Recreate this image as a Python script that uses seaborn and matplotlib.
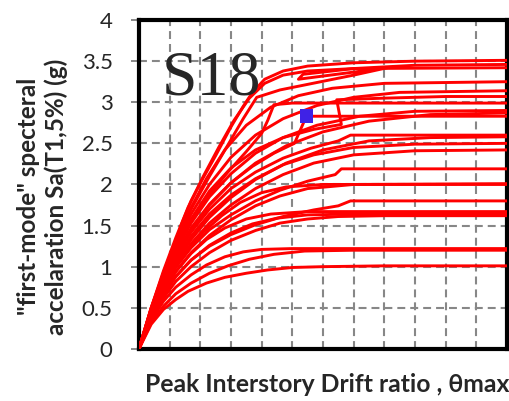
import matplotlib
matplotlib.use("Agg")
import matplotlib.pyplot as plt
import seaborn as sns
import pandas as pd

# ---- data (drift ratio in %, Sa in g) ----
c01_x = [0, 0.4, 0.8, 1.04, 1.37, 1.7, 2.05, 2.5, 3.0, 3.4, 3.7, 4.1, 4.7, 5.5, 7, 9, 12]
c01_y = [0, 0.5, 0.9, 1.1, 1.5, 1.8, 2.05, 2.35, 2.7, 2.95, 3.12, 3.28, 3.38, 3.44, 3.48, 3.5, 3.51]
c02_x = [0, 0.4, 0.8, 1.2, 1.7, 2.3, 2.9, 3.4, 3.84, 4.6, 5.8, 7, 8.1, 5.2, 5.35, 7, 9, 12]
c02_y = [0, 0.49, 0.92, 1.3, 1.7, 2.1, 2.48, 2.8, 3.06, 3.15, 3.24, 3.33, 3.42, 3.28, 3.34, 3.41, 3.45, 3.46]
c03_x = [0, 0.4, 0.8, 1.2, 1.6, 2.1, 2.6, 3.1, 3.6, 4.1, 4.7, 5.5, 7, 12]
c03_y = [0, 0.5, 0.95, 1.35, 1.72, 2.1, 2.45, 2.78, 3.05, 3.23, 3.33, 3.38, 3.41, 3.42]
c04_x = [0, 0.4, 0.8, 1.2, 1.7, 2.2, 2.8, 3.5, 4.3, 5.2, 6.3, 8, 12]
c04_y = [0, 0.5, 0.93, 1.31, 1.72, 2.07, 2.42, 2.72, 2.94, 3.08, 3.17, 3.23, 3.25]
c05_x = [0, 0.4, 0.8, 1.2, 1.7, 2.3, 3.0, 3.8, 4.7, 5.8, 7, 8.5, 12]
c05_y = [0, 0.48, 0.9, 1.26, 1.64, 2.0, 2.33, 2.6, 2.8, 2.96, 3.06, 3.12, 3.14]
c06_x = [0, 0.4, 0.8, 1.2, 1.7, 2.3, 3.0, 3.8, 4.7, 5.7, 6.6, 6.45, 8, 10, 12]
c06_y = [0, 0.48, 0.88, 1.22, 1.58, 1.92, 2.2, 2.42, 2.57, 2.67, 2.73, 3.03, 3.05, 3.07, 3.07]
c07_x = [0, 0.4, 0.8, 1.2, 1.7, 2.3, 2.9, 3.5, 4.0, 4.2, 4.4, 5, 12]
c07_y = [0, 0.47, 0.87, 1.2, 1.55, 1.88, 2.15, 2.4, 2.62, 2.78, 2.97, 2.99, 2.99]
c08_x = [0, 0.4, 0.8, 1.2, 1.7, 2.3, 3.0, 3.8, 4.7, 5.8, 7.2, 9, 12]
c08_y = [0, 0.47, 0.86, 1.19, 1.53, 1.85, 2.13, 2.38, 2.57, 2.72, 2.83, 2.89, 2.9]
c09_x = [0, 0.4, 0.8, 1.2, 1.7, 2.3, 3.0, 3.8, 4.8, 6.0, 7.5, 9.5, 12]
c09_y = [0, 0.45, 0.82, 1.13, 1.45, 1.75, 2.02, 2.26, 2.47, 2.64, 2.77, 2.85, 2.87]
cb_x = [0, 0.4, 0.8, 1.2, 1.7, 2.3, 3.0, 3.7, 4.4, 5.07, 5.46, 12]
cb_y = [0, 0.46, 0.84, 1.15, 1.47, 1.76, 2.02, 2.22, 2.38, 2.5, 2.83, 2.83]
c10_x = [0, 0.4, 0.8, 1.2, 1.7, 2.3, 3.0, 3.8, 4.7, 5.6, 6.5, 6.9, 12]
c10_y = [0, 0.45, 0.82, 1.12, 1.42, 1.7, 1.95, 2.15, 2.32, 2.44, 2.53, 2.6, 2.6]
c11_x = [0, 0.4, 0.8, 1.2, 1.7, 2.3, 3.0, 3.8, 4.8, 6.0, 7.5, 9.5, 12]
c11_y = [0, 0.43, 0.78, 1.05, 1.33, 1.6, 1.84, 2.06, 2.26, 2.42, 2.53, 2.57, 2.58]
c12_x = [0, 0.4, 0.8, 1.2, 1.7, 2.3, 3.0, 3.8, 4.7, 5.7, 7, 9, 12]
c12_y = [0, 0.44, 0.8, 1.08, 1.37, 1.64, 1.87, 2.07, 2.24, 2.36, 2.45, 2.49, 2.5]
c13_x = [0, 0.4, 0.8, 1.2, 1.7, 2.3, 3.0, 3.8, 4.7, 5.7, 7, 9, 12]
c13_y = [0, 0.43, 0.76, 1.02, 1.28, 1.53, 1.75, 1.95, 2.12, 2.26, 2.36, 2.41, 2.42]
c14_x = [0, 0.4, 0.8, 1.2, 1.7, 2.3, 3.0, 3.8, 4.6, 5.5, 6.4, 6.6, 12]
c14_y = [0, 0.42, 0.74, 0.99, 1.23, 1.45, 1.63, 1.8, 1.93, 2.04, 2.12, 2.19, 2.19]
c15_x = [0, 0.4, 0.8, 1.2, 1.7, 2.3, 3.0, 3.8, 4.6, 5.5, 7, 12]
c15_y = [0, 0.4, 0.7, 0.94, 1.17, 1.38, 1.57, 1.74, 1.86, 1.95, 2.0, 2.01]
c16_x = [0, 0.4, 0.8, 1.2, 1.6, 2.1, 2.7, 3.3, 4.0, 4.8, 6, 12]
c16_y = [0, 0.42, 0.75, 1.0, 1.2, 1.42, 1.62, 1.78, 1.9, 1.97, 2.0, 2.0]
c17_x = [0, 0.4, 0.8, 1.2, 1.7, 2.3, 3.0, 3.8, 4.7, 5.7, 6.5, 6.9, 12]
c17_y = [0, 0.38, 0.66, 0.88, 1.08, 1.25, 1.39, 1.51, 1.61, 1.69, 1.74, 1.8, 1.8]
c18_x = [0, 0.4, 0.8, 1.2, 1.7, 2.2, 2.8, 3.5, 4.3, 5.5, 12]
c18_y = [0, 0.4, 0.7, 0.94, 1.16, 1.33, 1.47, 1.58, 1.64, 1.67, 1.67]
c19_x = [0, 0.4, 0.8, 1.2, 1.7, 2.3, 3.0, 3.7, 4.5, 5.5, 7, 12]
c19_y = [0, 0.38, 0.66, 0.88, 1.08, 1.26, 1.41, 1.52, 1.59, 1.63, 1.64, 1.64]
c20_x = [0, 0.4, 0.8, 1.2, 1.7, 2.3, 3.0, 3.8, 4.6, 5.5, 6.5, 8, 12]
c20_y = [0, 0.36, 0.62, 0.82, 1.0, 1.17, 1.32, 1.44, 1.53, 1.58, 1.61, 1.62, 1.62]
c21_x = [0, 0.4, 0.8, 1.2, 1.7, 2.2, 2.8, 3.4, 4.0, 5.0, 12]
c21_y = [0, 0.35, 0.58, 0.75, 0.9, 1.02, 1.12, 1.18, 1.21, 1.22, 1.22]
c22_x = [0, 0.4, 0.8, 1.2, 1.7, 2.3, 2.9, 3.6, 4.4, 5.4, 7, 12]
c22_y = [0, 0.32, 0.52, 0.67, 0.8, 0.92, 1.01, 1.09, 1.15, 1.19, 1.2, 1.2]
c23_x = [0, 0.4, 0.8, 1.2, 1.6, 2.2, 2.8, 3.5, 4.2, 5.0, 6.0, 8, 12]
c23_y = [0, 0.3, 0.48, 0.6, 0.7, 0.8, 0.87, 0.92, 0.96, 0.99, 1.0, 1.01, 1.01]

marker_x = [5.46]
marker_y = [2.83]

y_ticks = [0, 0.5, 1, 1.5, 2, 2.5, 3, 3.5, 4]
y_tick_labels = ["0", "0.5", "1", "1.5", "2", "2.5", "3", "3.5", "4"]
x_grid = [1, 2, 3, 4, 5, 6, 7, 8, 9, 10, 11]

curves = {
    "c01": (c01_x, c01_y), "c02": (c02_x, c02_y), "c03": (c03_x, c03_y),
    "c04": (c04_x, c04_y), "c05": (c05_x, c05_y), "c06": (c06_x, c06_y),
    "c07": (c07_x, c07_y), "c08": (c08_x, c08_y), "c09": (c09_x, c09_y),
    "cb": (cb_x, cb_y), "c10": (c10_x, c10_y), "c11": (c11_x, c11_y),
    "c12": (c12_x, c12_y), "c13": (c13_x, c13_y), "c14": (c14_x, c14_y),
    "c15": (c15_x, c15_y), "c16": (c16_x, c16_y), "c17": (c17_x, c17_y),
    "c18": (c18_x, c18_y), "c19": (c19_x, c19_y), "c20": (c20_x, c20_y),
    "c21": (c21_x, c21_y), "c22": (c22_x, c22_y), "c23": (c23_x, c23_y),
}
rows = []
for name, (xs, ys) in curves.items():
    for i, (xv, yv) in enumerate(zip(xs, ys)):
        rows.append({"curve": name, "order": i, "drift": xv, "sa": yv})
df = pd.DataFrame(rows)

sns.set_theme(style="white")
plt.rcParams["font.family"] = ["Lato", "DejaVu Sans"]

fig = plt.figure(figsize=(5.09, 4.01), dpi=100)
ax = fig.add_axes([0.273, 0.130, 0.723, 0.820])

# grid
for xv in x_grid:
    ax.axvline(xv, color="#878787", lw=1.5, ls=(0, (3.8, 2.4)), zorder=1)
for yv in y_ticks[1:-1]:
    ax.axhline(yv, color="#878787", lw=1.5, ls=(0, (3.8, 2.4)), zorder=1)

sns.lineplot(data=df, x="drift", y="sa", units="curve", estimator=None,
             sort=False, color="#ff0000", lw=2.1, ax=ax, zorder=3)
sns.scatterplot(x=marker_x, y=marker_y, marker="s", s=95, color="#3f22e6",
                edgecolor="none", ax=ax, zorder=5)

ax.set_xlim(0, 12)
ax.set_ylim(0, 4)
ax.set_xticks([])
ax.set_yticks(y_ticks)
ax.set_yticklabels(y_tick_labels, fontsize=16)
ax.tick_params(axis="y", length=6, width=1.3, color="#808080", pad=13,
               left=True)
for s in ax.spines.values():
    s.set_visible(True)
    s.set_color("black")
    s.set_linewidth(3)

ax.text(0.75, 3.09, "S18", fontsize=46, family="Liberation Serif",
        ha="left", va="baseline", zorder=6)

ax.set_xlabel("")
ax.set_ylabel("")
fig.text(0.643, 0.04, "Peak Interstory Drift ratio , θmax", fontsize=17.8,
         fontweight="bold", ha="center", va="center")
fig.text(0.084, 0.51, "\"first-mode\" specteral\naccelaration Sa(T1,5%) (g)",
         fontsize=17.5, fontweight="bold", ha="center", va="center",
         rotation=90, linespacing=1.2, multialignment="center")

fig.savefig("out.png", dpi=100)
